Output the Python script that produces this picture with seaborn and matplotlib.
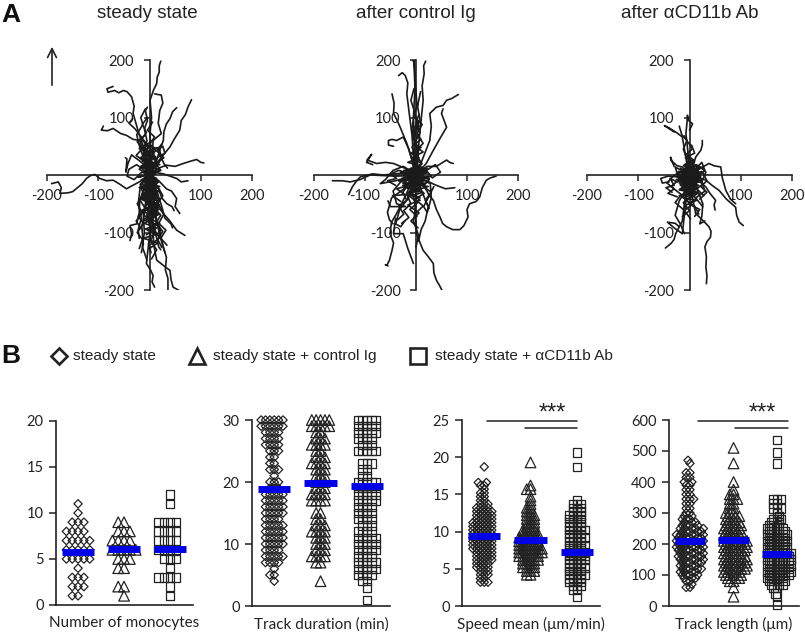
import numpy as np
import pandas as pd
import seaborn as sns
import matplotlib
matplotlib.use("Agg")
import matplotlib.pyplot as plt

panel_titles = ["steady state", "after control Ig", "after \u03b1CD11b Ab"]
legend_labels = ["steady state", "steady state + control Ig", "steady state + \u03b1CD11b Ab"]
groups = ["steady", "control", "antibody"]

# migration tracks, um
steady_tracks = [
    [(0,0),(-20,-12),(-45,-24),(-58,-16),(-71,-9),(-84,-10),(-97,-6),(-107,1),(-115,-1),(-123,-6),(-131,-15),(-139,-21),(-150,-29),(-159,-31),(-175,-32),(-172,-22),(-178,-12),(-191,-15)],
    [(0,0),(-5,22),(-12,49),(-20,70),(-32,107),(-30,120),(-35,136),(-44,145),(-51,147),(-60,143),(-68,147),(-81,144),(-83,150),(-71,154)],
    [(0,0),(-8,30),(-19,60),(-32,62),(-45,69),(-56,72),(-71,81),(-82,77),(-94,78),(-90,85)],
    [(0,0),(3,30),(1,72),(4,100),(1,130),(8,148),(14,159),(15,170),(19,179),(19,190),(22,198)],
    [(0,0),(5,30),(7,60),(23,72),(17,90),(20,112),(26,125),(23,139),(10,141)],
    [(0,0),(12,20),(20,43),(27,60),(28,75),(33,89),(40,98),(45,110),(53,117)],
    [(0,0),(18,25),(40,49),(48,62),(59,78),(62,95),(70,105),(75,118),(82,131)],
    [(0,0),(18,12),(33,17),(50,15),(66,20),(80,24),(92,27),(100,22),(106,21)],
    [(0,0),(14,4),(27,2),(40,-2),(53,-6),(62,-12),(75,-10)],
    [(0,0),(18,-10),(33,-24),(43,-28),(53,-41),(50,-55),(59,-67)],
    [(0,-20),(15,-45),(27,-67),(38,-78),(53,-96),(60,-100),(69,-105)],
    [(0,-30),(6,-70),(7,-102),(9,-125),(14,-148),(28,-158),(40,-166),(42,-182),(46,-195),(60,-202)],
    [(0,-40),(4,-75),(1,-102),(-3,-130),(-6,-154),(2,-165),(7,-175),(5,-186),(10,-195)],
    [(5,-30),(12,-70),(20,-100),(27,-125),(33,-143),(31,-165),(36,-180),(36,-200)],
    [(-5,-10),(-19,-44),(-20,-65),(-25,-85),(-38,-88),(-35,-102),(-38,-114)],
    [(-2,0),(-6,-40),(-12,-70),(-10,-100),(-14,-125),(-8,-140),(-5,-148)],
    [(3,0),(-5,-35),(-8,-60),(-15,-90),(-12,-120),(-16,-135)],
    [(2,-5),(10,-40),(6,-80),(14,-110),(18,-125),(22,-130)],
    [(-3,-10),(2,-50),(14,-80),(20,-105),(25,-120),(30,-135)],
    [(4,-5),(15,-30),(24,-55),(30,-75),(42,-85),(45,-92)],
    [(-4,0),(-18,-20),(-22,-50),(-16,-75),(-22,-95),(-20,-110)],
    [(1,-8),(18,-25),(24,-40),(34,-50),(44,-55),(48,-62)],
    [(0,-3),(-10,-25),(2,-45),(-5,-70),(4,-95),(-2,-120),(3,-135)],
    [(2,0),(8,-25),(16,-50),(12,-75),(22,-95),(16,-115)],
    [(-6,4),(-12,35),(-5,60),(-10,80),(-4,95),(-8,112),(-4,118)],
    [(-3,10),(-18,45),(-25,70),(-13,88),(-17,100),(-8,115)],
    [(3,5),(-8,30),(-2,50),(-15,65),(-28,80),(-40,90),(-33,98)],
    [(0,10),(-20,25),(-35,35),(-42,20),(-46,5),(-44,28),(-47,30)],
    [(2,5),(15,30),(30,38),(26,50),(16,45),(28,20),(35,12)],
    [(0,0),(-15,5),(-30,-8),(-44,-2),(-40,10),(-25,18),(-10,8)],
    [(1,2),(12,25),(6,45),(18,48),(24,30),(14,15),(5,-5)],
    [(-2,2),(-10,20),(2,35),(-12,50),(-4,20),(6,8),(-8,-8)],
    [(0,-2),(10,-15),(-5,-25),(8,-38),(-6,-48),(14,-58),(2,-66)],
    [(0,-1),(-12,-12),(4,-22),(-14,-34),(3,-45),(-10,-56),(6,-70)],
    [(3,-1),(14,-10),(-4,-20),(16,-30),(-2,-42),(18,-52),(4,-60)],
    [(-1,6),(8,18),(-8,28),(10,12),(-10,6),(6,-6),(-6,-16)],
    [(0,3),(-6,12),(8,6),(-10,-4),(10,-14),(-8,-24),(12,-30)],
    [(-4,-4),(12,2),(-10,14),(14,24),(-4,34),(6,42),(-8,52)],
    [(0,0),(-14,-14),(-6,-30),(-20,-42),(-8,-58),(-22,-72),(-12,-84),(-24,-100),(-14,-112),(-20,-128)],
    [(1,0),(12,-14),(4,-28),(18,-42),(8,-56),(22,-70),(12,-84),(26,-98),(16,-112),(24,-126)],
    [(0,-2),(-6,-18),(8,-34),(-4,-50),(10,-66),(-2,-82),(12,-98),(2,-114),(14,-130),(4,-146)],
    [(2,-4),(16,-20),(26,-36),(14,-52),(28,-68),(18,-84),(32,-96),(22,-110),(34,-122)],
    [(-3,-2),(-18,-16),(-12,-34),(-24,-50),(-14,-66),(-26,-80),(-16,-94)],
    [(0,2),(-10,14),(4,26),(-12,38),(-2,50),(-16,62),(-6,74),(-14,88),(-4,100)],
    [(1,2),(10,16),(-2,30),(12,42),(0,54),(10,66),(-4,78),(6,92)],
    [(-1,0),(-20,10),(-8,22),(-26,34),(-14,46),(-24,58),(-10,68)],
    [(2,0),(22,8),(12,20),(28,30),(14,42),(24,54)],
    [(0,-4),(-16,-8),(14,-14),(-20,-22),(18,-28),(-14,-38),(20,-46)],
    [(0,0),(14,-6),(-14,-12),(20,-20),(-10,-26),(14,-34),(-18,-42),(16,-50)],
    [(0,2),(-22,-4),(16,6),(-18,14),(20,18),(-14,26),(12,30)],
    [(0,-30),(-14,-40),(10,-50),(-16,-62),(12,-72),(-10,-84),(14,-92),(-6,-104)],
    [(0,-50),(18,-60),(-8,-72),(20,-84),(-4,-96),(22,-108),(4,-120)],
    [(-4,8),(10,16),(-14,24),(12,32),(-12,38),(14,46),(-10,54)],
    [(-2,-6),(10,-10),(-12,-18),(12,-24),(-14,-32),(14,-40),(-8,-46)],
    [(6,-20),(-8,-28),(16,-36),(-12,-44),(18,-52),(-10,-60),(20,-68),(-6,-78)],
    [(2,-70),(-12,-78),(14,-86),(-8,-94),(18,-102),(-12,-110),(16,-118),(0,-128)],
    [(-2,6),(-16,16),(6,22),(-18,30),(2,40),(-20,46),(4,58)],
    [(2,10),(16,22),(-4,18),(20,8),(-6,-2),(18,-12),(2,-22)],
]

control_tracks = [
    [(0,0),(10,-12),(21,-27),(26,-36),(34,-44),(40,-60),(47,-73),(52,-84),(60,-90),(72,-95),(86,-95),(94,-88),(102,-73),(100,-60),(105,-50),(118,-46),(125,-38),(130,-22),(138,-9),(146,-5),(157,-2)],
    [(0,-10),(-2,-60),(1,-102),(8,-118),(14,-131),(24,-142),(34,-154),(35,-170),(40,-183),(46,-192),(53,-204)],
    [(-5,-5),(-20,-35),(-38,-67),(-48,-82),(-51,-102),(-44,-118),(-47,-131),(-52,-148),(-57,-157),(-60,-156),(-55,-158)],
    [(-40,-75),(-44,-102),(-25,-102),(-16,-128),(-5,-154)],
    [(0,5),(-3,50),(-5,101),(-2,150),(-4,196),(-6,199),(-3,199),(-2,170),(2,120)],
    [(2,5),(6,60),(14,130),(12,155),(16,176),(15,190),(19,198)],
    [(-3,10),(-8,70),(-18,141),(-16,160),(-21,173),(-27,178),(-34,173)],
    [(-4,15),(-18,55),(-31,83),(-37,95),(-44,107),(-43,125),(-47,141)],
    [(-2,8),(-14,45),(-25,66),(-38,60),(-47,62),(-54,60),(-54,52),(-44,50)],
    [(3,5),(16,35),(27,60),(30,85),(27,107),(40,118),(53,121),(60,130),(70,133),(83,140)],
    [(3,3),(20,20),(34,43),(48,65),(60,83),(55,95),(50,107),(53,115)],
    [(-3,2),(-22,12),(-44,20),(-60,22),(-77,20),(-96,26),(-87,36),(-97,22),(-85,18)],
    [(-3,-1),(-40,-2),(-90,0),(-110,-8),(-129,-12),(-145,-10),(-164,-10)],
    [(-2,-2),(-30,3),(-64,0),(-85,2),(-109,-3),(-118,-12),(-125,-21),(-132,-34)],
    [(2,-3),(20,-10),(40,-18),(58,-24),(76,-22)],
    [(3,3),(22,15),(40,15),(60,26),(66,22),(73,20)],
    [(-2,2),(3,45),(-8,80),(-3,110),(-10,130),(-4,150)],
    [(1,3),(4,40),(-6,70),(8,95),(3,120),(9,145)],
    [(-4,0),(-25,-25),(-48,-40),(-56,-65),(-52,-78),(-45,-85)],
    [(-4,-3),(-15,-40),(-32,-60),(-40,-85),(-30,-90),(-22,-80)],
    [(2,-4),(12,-30),(24,-55),(18,-80),(10,-95),(5,-115)],
    [(0,-5),(-8,-30),(0,-55),(-5,-80),(5,-105),(0,-125)],
    [(3,-3),(28,-15),(30,-40),(22,-65),(15,-55),(35,-20)],
    [(0,0),(-30,-12),(-45,-28),(-38,-50),(-20,-55),(-50,-55),(-55,-45)],
    [(0,2),(-25,15),(-45,8),(-60,-8),(-70,-15),(-40,-10),(-20,-5)],
    [(0,0),(24,10),(38,18),(48,5),(32,-5),(20,8),(8,-8)],
    [(1,1),(-8,25),(5,45),(-6,65),(6,85),(-3,105),(3,125)],
    [(0,1),(10,22),(-3,40),(14,55),(2,72),(12,88),(-2,100)],
    [(-2,0),(-12,-14),(6,-25),(-15,-35),(3,-48),(-12,-60),(2,-72)],
    [(2,0),(14,-12),(-5,-22),(16,-32),(-2,-42),(14,-54),(0,-66)],
    [(0,0),(-14,10),(8,16),(-16,22),(6,30),(-10,38),(10,48)],
    [(0,0),(18,-4),(-18,3),(24,4),(-24,-4),(16,-10),(-16,-14)],
    [(0,0),(-30,5),(12,-6),(-34,-10),(30,-2),(-26,-18),(20,-14)],
    [(-2,2),(12,14),(-10,6),(14,-8),(-12,-14),(8,-22),(-6,-28)],
    [(1,-1),(-8,8),(10,2),(-6,-6),(12,-10),(-10,-16),(4,-30)],
    [(0,0),(-6,16),(4,32),(-8,48),(2,64),(-6,78),(4,92),(-4,108),(4,122)],
    [(0,0),(4,14),(-4,28),(6,44),(-2,58),(8,74),(0,90),(6,106)],
    [(-2,-4),(-16,-18),(-26,-30),(-18,-44),(-34,-54),(-24,-68),(-36,-78)],
    [(2,-6),(-6,-22),(-18,-34),(-10,-50),(-24,-62),(-14,-74),(-28,-84)],
    [(0,0),(-28,-6),(-14,-18),(-38,-24),(-22,-34),(-46,-36),(-30,-46)],
    [(0,0),(26,-8),(14,-20),(30,-30),(18,-44),(26,-58)],
    [(0,0),(-10,12),(14,8),(-18,-2),(22,12),(-24,8),(26,-6)],
    [(-2,0),(-34,8),(-50,2),(-38,-6),(-56,-10),(-40,-18)],
    [(0,-10),(10,-24),(-14,-30),(8,-44),(-16,-52),(6,-66),(-10,-80),(4,-92)],
    [(0,8),(12,20),(-8,30),(14,40),(-4,52),(10,62),(-6,72)],
    [(-6,4),(10,12),(-12,-8),(16,-16),(-20,-22),(14,-30),(-16,-38)],
    [(0,-6),(-22,4),(20,10),(-26,-14),(24,-20),(-14,-30),(8,-40)],
]

antibody_tracks = [
    [(0,0),(16,-4),(32,-9),(44,-18),(58,-27),(72,-42),(90,-56),(92,-70),(97,-82),(105,-88)],
    [(0,-10),(6,-40),(12,-67),(25,-78),(38,-90),(42,-98),(41,-108),(34,-116),(30,-125),(33,-142),(32,-160),(34,-175),(33,-189)],
    [(-2,-10),(-10,-50),(-14,-80),(-27,-102),(-30,-112),(-36,-119),(-47,-127)],
    [(-5,-30),(-14,-102),(-30,-92),(-43,-82),(-28,-84),(-20,-90)],
    [(-2,3),(-8,35),(-14,66),(-24,73),(-33,78),(-40,82),(-49,86),(-44,83),(-30,75)],
    [(0,5),(-3,40),(-7,72),(-5,90),(-4,104),(-2,95),(6,89),(0,78)],
    [(2,4),(8,18),(12,31),(22,43),(25,52),(25,60)],
    [(3,0),(22,12),(38,20),(48,16),(61,14),(64,-5),(71,-27),(80,-42),(90,-50)],
    [(3,-3),(18,-10),(32,-21),(40,-32),(51,-44),(48,-52),(50,-61)],
    [(-2,1),(-14,14),(-24,16),(-36,25),(-37,31),(-30,15)],
    [(-3,-1),(-14,-2),(-27,-3),(-42,-2),(-56,-6),(-53,-14),(-40,-12)],
    [(0,0),(-10,-30),(-20,-45),(-28,-70),(-18,-85),(-10,-102)],
    [(0,-3),(15,-25),(26,-50),(24,-72),(20,-85),(30,-80)],
    [(0,0),(-6,30),(-12,45),(-5,60),(-15,70),(-20,85)],
    [(0,0),(22,14),(32,5),(24,-12),(30,-28),(12,-40),(26,-55)],
    [(0,0),(-20,6),(-34,-4),(-44,-14),(-30,-24),(-42,-32),(-24,-38)],
    [(1,0),(-12,-16),(8,-28),(-14,-38),(4,-52),(-10,-62),(2,-76)],
    [(0,1),(14,-10),(-4,-22),(16,-32),(-6,-44),(10,-54),(18,-68)],
    [(-1,1),(10,12),(-12,16),(8,24),(-8,30),(10,38),(4,52)],
    [(0,0),(-22,6),(18,-2),(-26,-8),(22,-10),(-18,-16),(28,6)],
    [(0,0),(16,8),(-14,-6),(20,-12),(-18,-18),(12,-24),(-10,-30)],
    [(0,0),(-8,12),(12,4),(-12,-4),(8,-14),(-6,-8),(10,16)],
    [(0,0),(8,-10),(-10,-12),(6,4),(-8,8),(12,-6),(-14,-20)],
    [(0,0),(-28,14),(-20,-8),(-36,-20),(-16,-34),(-28,-48),(-12,-60)],
    [(0,0),(24,22),(30,8),(12,18),(26,-16),(14,-24),(28,-36)],
    [(0,0),(-14,4),(10,10),(-18,-6),(14,-14),(-12,-18),(16,-24),(-8,-34)],
    [(0,-2),(12,2),(-16,-10),(18,-18),(-14,-26),(10,-32),(-20,-36)],
    [(-2,0),(-10,18),(8,26),(-6,36),(6,46),(-4,58),(-10,68)],
    [(2,0),(10,-18),(-8,-30),(14,-40),(-2,-50),(20,-60),(10,-72)],
    [(0,-4),(-24,-12),(-38,-6),(-30,-18),(-46,-22),(-34,-30)],
    [(0,0),(26,4),(34,-10),(22,-20),(34,-30),(20,-42)],
    [(0,-6),(-6,-20),(4,-36),(-12,-48),(0,-62),(-14,-72)],
    [(-2,2),(18,14),(-20,-14),(22,-2),(-22,2),(16,-22),(-14,-34)],
    [(2,-2),(-18,12),(20,-8),(-24,-4),(24,6),(-20,-26),(18,-32)],
    [(0,4),(8,22),(-10,10),(14,18),(-16,-8),(10,-16),(-8,-26)],
    [(-4,-8),(14,-16),(-18,-24),(16,-30),(-12,-40),(14,-44),(-6,-52)],
]
tracks = [steady_tracks, control_tracks, antibody_tracks]

# dot columns: levels and how many points sit at each level
monocyte_levels = [1, 2, 3, 4, 5, 6, 7, 8, 9, 10, 11, 12]
monocyte_steady = [2, 3, 3, 1, 5, 5, 5, 4, 3, 1, 1, 0]
monocyte_control = [1, 2, 0, 2, 3, 5, 4, 3, 2, 0, 0, 0]
monocyte_antibody = [1, 1, 4, 1, 3, 4, 4, 4, 4, 0, 1, 1]
monocyte_means = [5.8, 6.1, 6.1]

duration_levels = list(range(1, 31))
duration_steady = [0, 0, 0, 1, 2, 1, 4, 5, 4, 5, 5, 5, 5, 4, 5, 5, 5, 5, 3, 3, 1, 3, 2, 2, 3, 4, 4, 4, 6, 6]
duration_control = [0, 0, 0, 1, 0, 0, 2, 4, 3, 3, 3, 4, 3, 2, 2, 0, 4, 4, 3, 3, 3, 3, 4, 3, 2, 4, 3, 2, 5, 5]
duration_antibody = [1, 0, 1, 2, 4, 5, 5, 4, 5, 5, 5, 4, 3, 4, 4, 4, 5, 5, 5, 5, 2, 2, 3, 0, 5, 3, 4, 5, 5, 5]
duration_means = [18.8, 19.8, 19.4]

speed_levels = [1.2, 2.2, 2.7, 3.2, 3.7, 4.2, 4.7, 5.2, 5.7, 6.2, 6.7, 7.2, 7.7, 8.2, 8.7, 9.2, 9.7, 10.2, 10.7, 11.2, 11.7,
                12.2, 12.7, 13.2, 13.7, 14.2, 14.7, 15.2, 15.7, 16.2, 16.6, 18.7, 19.3, 20.6]
speed_steady = [0, 0, 0, 3, 2, 3, 3, 4, 4, 5, 5, 5, 6, 6, 6, 6, 6, 6, 6, 6, 5, 5, 5, 4, 3, 2, 2, 2, 1, 2, 2, 1, 0, 0]
speed_control = [0, 0, 0, 0, 0, 2, 3, 4, 4, 5, 6, 7, 7, 6, 6, 6, 5, 4, 3, 3, 3, 3, 2, 2, 1, 1, 1, 0, 2, 1, 0, 0, 1, 0]
speed_antibody = [1, 2, 3, 4, 4, 5, 4, 5, 4, 5, 5, 5, 4, 5, 4, 5, 4, 5, 4, 4, 4, 4, 3, 3, 3, 1, 0, 0, 0, 0, 0, 1, 0, 1]
speed_means = [9.4, 8.9, 7.3]

length_levels = [5, 30, 40, 60, 70, 80, 90, 100, 110, 120, 130, 140, 150, 160, 170, 180, 190, 200, 210, 220, 230, 240, 250, 260,
                 270, 280, 290, 300, 315, 330, 345, 360, 375, 390, 400, 415, 430, 460, 470, 495, 510, 535]
length_steady = [0, 0, 0, 2, 1, 2, 3, 4, 4, 5, 4, 5, 5, 6, 5, 6, 6, 6, 6, 6, 6, 5, 5, 4, 3, 3, 2, 2, 2, 2, 3, 2, 2, 2, 2, 2, 2, 1, 1, 0, 0, 0]
length_control = [0, 1, 0, 1, 0, 2, 3, 4, 4, 5, 5, 5, 5, 5, 4, 5, 5, 5, 5, 4, 4, 4, 4, 4, 3, 3, 3, 3, 2, 2, 3, 2, 1, 0, 1, 0, 0, 1, 0, 0, 1, 0]
length_antibody = [1, 1, 1, 2, 3, 4, 4, 5, 5, 5, 5, 5, 5, 5, 5, 4, 5, 4, 5, 4, 5, 4, 4, 3, 2, 3, 1, 1, 3, 2, 3, 0, 0, 0, 0, 0, 0, 1, 0, 1, 0, 1]
length_means = [210, 213, 167]

dot_xlabels = ["Number of monocytes", "Track duration (min)", "Speed mean (\u03bcm/min)", "Track length (\u03bcm)"]
dot_levels = [monocyte_levels, duration_levels, speed_levels, length_levels]
dot_counts = [
    [monocyte_steady, monocyte_control, monocyte_antibody],
    [duration_steady, duration_control, duration_antibody],
    [speed_steady, speed_control, speed_antibody],
    [length_steady, length_control, length_antibody],
]
dot_means = [monocyte_means, duration_means, speed_means, length_means]
dot_ymax = [20, 30, 25, 600]
dot_yticks = [[0, 5, 10, 15, 20], [0, 10, 20, 30], [0, 5, 10, 15, 20, 25], [0, 100, 200, 300, 400, 500, 600]]

sns.set_theme(style="white")
plt.rcParams["font.family"] = ["Lato", "DejaVu Sans"]
plt.rcParams["axes.unicode_minus"] = False
ink = "#222222"
W, H = 805, 632
fig = plt.figure(figsize=(W / 100, H / 100), dpi=100)


def box(left, top, right, bottom):
    return [left / W, 1 - bottom / H, (right - left) / W, (bottom - top) / H]


# A: track plots
track_boxes = [(47, 60, 252, 290), (314, 60, 518, 290), (587, 60, 792, 290)]
for b, panel in zip(track_boxes, tracks):
    ax = fig.add_axes(box(*b))
    rows = [(i, x, y) for i, t in enumerate(panel) for x, y in t]
    df = pd.DataFrame(rows, columns=["track", "x", "y"])
    sns.lineplot(data=df, x="x", y="y", units="track", estimator=None, sort=False,
                 color="#1a1a1a", lw=1.2, legend=False, ax=ax, zorder=3)
    ax.set_xlim(-200, 200)
    ax.set_ylim(-200, 200)
    ax.set_xlabel("")
    ax.set_ylabel("")
    ax.patch.set_alpha(0)
    for s in ["top", "right"]:
        ax.spines[s].set_visible(False)
    for s in ["left", "bottom"]:
        ax.spines[s].set_position("zero")
        ax.spines[s].set_color(ink)
        ax.spines[s].set_linewidth(1.2)
    ax.set_xticks([-200, -100, 100, 200])
    ax.set_yticks([-200, -100, 100, 200])
    ax.tick_params(axis="x", bottom=True, length=4, width=1.1, color=ink, labelsize=10.5, labelcolor=ink, pad=6)
    ax.tick_params(axis="y", left=True, length=4, width=1.1, color=ink, labelsize=10.5, labelcolor=ink, pad=7)

# B: dot columns
dot_boxes = [(56, 421, 193, 605), (252, 420, 390, 606), (462, 420, 600, 606), (669, 420, 799, 606)]
swarm_sizes = [4, 3, 2.6, 2.6]
markers = ["D", "^", "s"]
marker_areas = [18, 58, 38]
swarms = []
for b, levels, counts, means, ymax, yticks, label, swarm_size in zip(
        dot_boxes, dot_levels, dot_counts, dot_means, dot_ymax, dot_yticks, dot_xlabels, swarm_sizes):
    ax = fig.add_axes(box(*b))
    for g, c, m, area in zip(groups, counts, markers, marker_areas):
        vals = np.repeat(levels, c)
        before = len(ax.collections)
        sns.swarmplot(x=[g] * len(vals), y=vals, order=groups, marker=m, size=swarm_size,
                      linewidth=0, color=ink, warn_thresh=1, ax=ax)
        swarms += [(coll, area) for coll in ax.collections[before:]]
    ax.hlines(means, np.arange(3) - 0.35, np.arange(3) + 0.35, color="#0000e6", lw=5, zorder=6)
    ax.set_xlim(-0.48, 2.5)
    ax.set_ylim(0, ymax)
    ax.set_yticks(yticks)
    ax.set_xticks([])
    ax.set_ylabel("")
    ax.set_xlabel(label, fontsize=11, color=ink, labelpad=8)
    ax.patch.set_alpha(0)
    for s in ["top", "right"]:
        ax.spines[s].set_visible(False)
    for s in ["left", "bottom"]:
        ax.spines[s].set_color(ink)
        ax.spines[s].set_linewidth(1.2)
    ax.tick_params(axis="y", left=True, length=5, width=1.1, color=ink, labelsize=10.5, labelcolor=ink, pad=4)

# let the swarms settle, then freeze them and swap in the open markers
fig.canvas.draw()
for coll, area in swarms:
    coll.__dict__.pop("draw", None)
    if len(coll.get_offsets()) == 0:
        coll.remove()
        continue
    coll.set_sizes([area])
    coll.set_facecolor("none")
    coll.set_edgecolor(ink)
    coll.set_linewidth(0.9)
    coll.set_clip_on(False)

# overlay in pixel coordinates for the letters, legend row and brackets
top = fig.add_axes([0, 0, 1, 1], zorder=10)
top.set_xlim(0, W)
top.set_ylim(H, 0)
top.axis("off")
head = "Liberation Sans"
top.text(1, 15, "A", fontsize=19, fontweight="bold", family=head, color="#111111", va="center")
top.text(1, 356, "B", fontsize=19, fontweight="bold", family=head, color="#111111", va="center")
for x, t in zip([147, 416, 690], panel_titles):
    top.text(x, 13, t, fontsize=13.5, family=head, color=ink, ha="center", va="center")
top.annotate("", xy=(52, 44), xytext=(52, 88), arrowprops=dict(arrowstyle="->", color=ink, lw=1.2, mutation_scale=16))
for x, m, ms, tx, t in zip([59, 197, 418], markers, [8, 12, 12], [73, 213, 435], legend_labels):
    top.plot([x], [356], marker=m, ms=ms, mfc="none", mec=ink, mew=1.9, ls="none")
    top.text(tx, 356, t, fontsize=11.1, family=head, color=ink, va="center")
for x0, x1, xs, xstar in [(487, 577, 525, 552), (698, 788, 735, 762)]:
    top.plot([x0, x1], [421, 421], color=ink, lw=1.1)
    top.plot([xs, x1], [428, 428], color=ink, lw=1.1)
    top.text(xstar, 414, "***", fontsize=17, family=head, color=ink, ha="center", va="center")

fig.savefig("out.png", dpi=100)
